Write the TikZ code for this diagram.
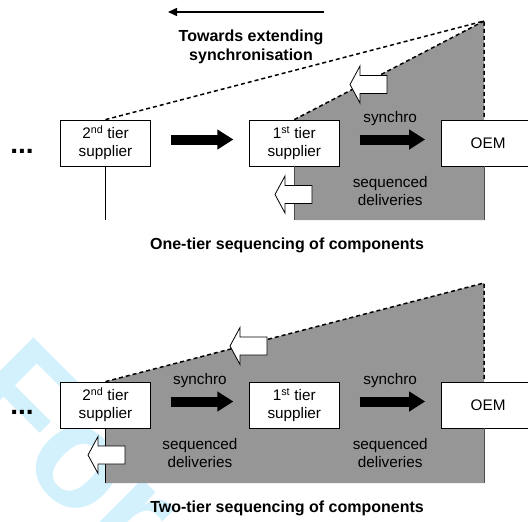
\documentclass[tikz,border=0pt]{standalone}
\usepackage{fontspec}
\setmainfont{Liberation Sans}
\usetikzlibrary{arrows.meta,positioning,backgrounds}
\definecolor{zonegray}{RGB}{150,150,150}
\definecolor{stampblue}{RGB}{211,241,252}
\tikzset{
  tier/.style={draw,fill=white,line width=0.8pt,minimum width=90pt,minimum height=46pt,
    inner sep=0pt,align=center,font=\fontsize{15.3}{18}\selectfont},
  flow/.style={line width=10pt,-{Triangle[length=16pt,width=19pt]},
    shorten <=20pt,shorten >=15.5pt},
  lbl/.style={align=center,font=\fontsize{15.3}{18}\selectfont},
  caption/.style={align=center,font=\bfseries\fontsize{16}{19}\selectfont},
  edge/.style={line width=1.5pt,dash pattern=on 4pt off 3pt},
  rim/.style={line width=0.8pt},
  pics/backarrow/.style={code={
    \draw[fill=white,line width=0.8pt] (0,0) -- (10,-18.5) -- (10,-9) -- (37,-9)
      -- (37,9) -- (10,9) -- (10,18.5) -- cycle;}}
}
\begin{document}
\begin{tikzpicture}[x=1pt,y=-1pt]
\useasboundingbox (0,0) rectangle (528,522);
% one-tier
\node[tier] (s2a) at (105.5,143) {2\textsuperscript{nd} tier\\supplier};
\node[tier,right=98pt of s2a] (s1a) {1\textsuperscript{st} tier\\supplier};
\node[tier,right=101pt of s1a,minimum width=94pt] (oema) {OEM};
% two-tier
\node[tier] (s2b) at (105.5,405) {2\textsuperscript{nd} tier\\supplier};
\node[tier,right=98pt of s2b] (s1b) {1\textsuperscript{st} tier\\supplier};
\node[tier,right=101pt of s1b,minimum width=94pt] (oemb) {OEM};
\coordinate (peaka) at (484,21);
\coordinate (peakb) at (484,283);
\coordinate (flra) at (0,220);
\coordinate (flrb) at (0,483);
\begin{scope}[on background layer]
  \begin{scope}
    \clip (0,0) rectangle (528,522);
    \node[stampblue,rotate=-45,anchor=base west,inner sep=0pt,
      font=\bfseries\fontsize{145}{145}\selectfont] (mark) at (-44,401) {For};
  \end{scope}
  \fill[zonegray] (s1a.north) -- (peaka) -- (peaka |- flra) -- (s1a |- flra) -- cycle;
  \fill[zonegray] (s2b.north) -- (peakb) -- (peakb |- flrb) -- (s2b |- flrb) -- cycle;
\end{scope}
\draw[edge] (s2a.north) -- (peaka) -- (peaka |- oema.north);
\draw[edge] (s1a.north) -- (peaka);
\draw[rim] (s2a.south) -- (s2a |- flra);
\draw[rim,black!70] (s1a.south) -- (s1a |- flra);
\draw[rim,black!70] (peaka |- oema.south) -- (peaka |- flra);
\draw[edge] (s2b.north) -- (peakb) -- (peakb |- oemb.north);
\draw[rim] (s2b.south) -- (s2b |- flrb);
\draw[rim,black!70] (peakb |- oemb.south) -- (peakb |- flrb);
% black flows
\draw[flow] ([yshift=3.5pt]s2a.east) -- ([yshift=3.5pt]s1a.west);
\draw[flow] ([yshift=3.5pt]s1a.east) -- ([yshift=3.5pt]s1a.east -| oema.west)
  node[lbl,midway,anchor=base,yshift=17pt] (syna) {synchro}
  node[lbl,midway,yshift=-52pt] (seqa) {sequenced\\deliveries};
\draw[flow] ([yshift=3.5pt]s2b.east) -- ([yshift=3.5pt]s1b.west)
  node[lbl,midway,anchor=base,yshift=17pt] (synb) {synchro}
  node[lbl,midway,yshift=-52pt] (seqb) {sequenced\\deliveries};
\draw[flow] ([yshift=3.5pt]s1b.east) -- ([yshift=3.5pt]s1b.east -| oemb.west)
  node[lbl,midway,anchor=base,yshift=17pt] (sync) {synchro}
  node[lbl,midway,yshift=-52pt] (seqc) {sequenced\\deliveries};
% hollow arrows
\pic at (350,84.5) {backarrow};
\pic at (275,194.5) {backarrow};
\pic at (230,346) {backarrow};
\pic at (88,455) {backarrow};
% trend
\coordinate (trenda) at (324,12);
\coordinate (trendb) at (168,12);
\draw[line width=1.5pt,-{Triangle[length=9pt,width=8pt]}] (trenda) -- (trendb);
\node[caption] (trend) at (251,47) {Towards extending\\synchronisation};
\node[anchor=base,font=\bfseries\fontsize{28}{28}\selectfont] (dotsa) at (22,153) {...};
\node[anchor=base,font=\bfseries\fontsize{28}{28}\selectfont] (dotsb) at (22,414) {...};
\node[caption] (capa) at (287,245) {One-tier sequencing of components};
\node[caption] (capb) at (287,508) {Two-tier sequencing of components};
\end{tikzpicture}
\end{document}
